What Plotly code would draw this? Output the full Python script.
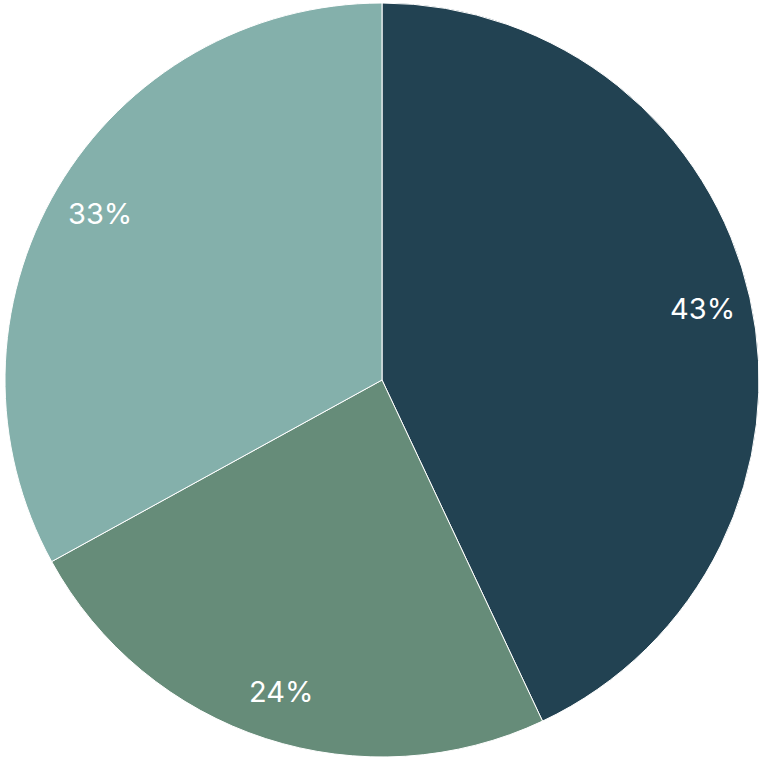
import math
import plotly.graph_objects as go

labels = ["A", "B", "C"]
values = [43, 24, 33]
colors = ["#224252", "#668C79", "#84B0AB"]

W, H = 764, 760
M = 3
radius = min(W - 2 * M, H - 2 * M) / 2

fig = go.Figure(go.Pie(
    labels=labels,
    values=values,
    sort=False,
    direction="clockwise",
    rotation=0,
    marker=dict(colors=colors, line=dict(color="white", width=1)),
    textinfo="none",
    showlegend=False,
    hoverinfo="label+percent",
))

# percent labels near the outer rim, at each slice's mid angle
total = sum(values)
cum = 0
for v in values:
    mid = (cum + v / 2) / total * 2 * math.pi
    cum += v
    r = 0.87 * radius
    fig.add_annotation(
        x=0.5 + r * math.sin(mid) / (W - 2 * M),
        y=0.5 + r * math.cos(mid) / (H - 2 * M),
        xref="paper", yref="paper",
        xanchor="center", yanchor="middle",
        text=f"{round(v / total * 100)}%",
        showarrow=False,
        font=dict(family="Inter", size=29, color="white"),
    )

fig.update_layout(
    width=W, height=H,
    margin=dict(t=M, b=M, l=M, r=M),
    paper_bgcolor="white",
)

fig.write_html("out.html", config={"displayModeBar": False},
               post_script="document.body.style.margin='0';")
